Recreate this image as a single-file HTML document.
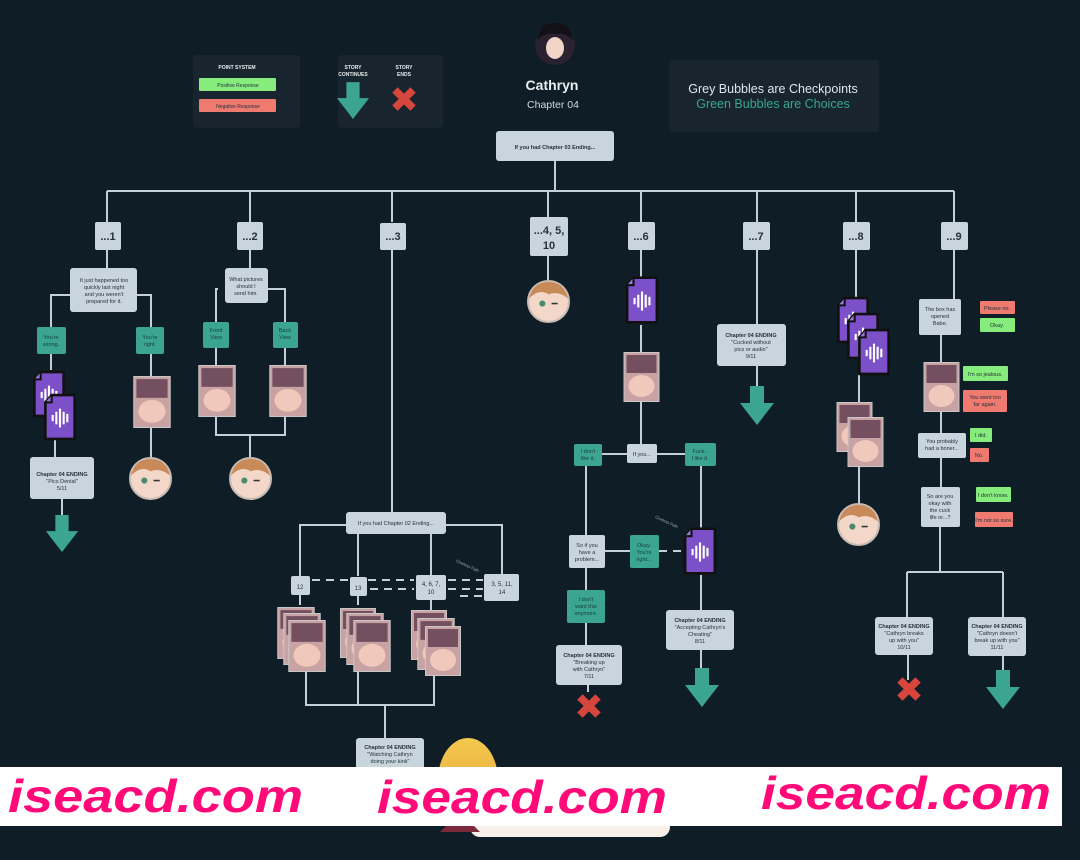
<!DOCTYPE html>
<html><head><meta charset="utf-8"><style>
html,body{margin:0;padding:0;background:#0f1d26;}
svg{display:block;font-family:"Liberation Sans",sans-serif;}
.n{fill:#c9d5dc}
.t{fill:#3ba592}
.g{fill:#86ec7c}
.r{fill:#ee7a70}
.l{stroke:#c4d0d6;stroke-width:2;fill:none}
.d{stroke:#c4d0d6;stroke-width:2;fill:none;stroke-dasharray:8 6}
text{fill:#26323a;font-size:5.5px;text-anchor:middle}
.b{font-weight:bold}
.big{font-size:12px;font-weight:bold}
.tt{fill:#173f38}
.wm{fill:#ff0a78;font-size:46px;font-weight:bold;font-style:italic;text-anchor:start}
</style></head><body>
<svg width="1080" height="860" viewBox="0 0 1080 860">
<defs>
<symbol id="aud" viewBox="0 0 32 46"><path d="M8 2H30V44H2V9Z" fill="#7c50c8" stroke="#111" stroke-width="2.5"/><path d="M8 2V9H2" fill="#9a78dc" stroke="#111" stroke-width="2"/><g fill="#fff"><rect x="8" y="21" width="2" height="6"/><rect x="11.5" y="18" width="2" height="12"/><rect x="15" y="15" width="2" height="18"/><rect x="18.5" y="18" width="2" height="12"/><rect x="22" y="20" width="2" height="8"/></g></symbol>
<symbol id="arr" viewBox="0 0 36 40"><path d="M11 0H25V17H35L18 39L1 17H11Z" fill="#3ba592"/></symbol>
<symbol id="x" viewBox="0 0 30 30"><path d="M4 9L9 4L15 10L21 4L26 9L20 15L26 21L21 26L15 20L9 26L4 21L10 15Z" fill="#d6463d"/></symbol>
<symbol id="av" viewBox="0 0 42 42"><circle cx="21" cy="21" r="20" fill="#f3d7c8" stroke="#c9bcb4" stroke-width="2"/><path d="M2 18Q6 2 21 2Q36 2 40 18Q30 10 21 14Q12 8 2 18Z" fill="#c98a5a"/><circle cx="15" cy="23" r="3" fill="#4a8a70"/><path d="M24 23h6" stroke="#333" stroke-width="1.5"/></symbol>
<symbol id="img" viewBox="0 0 36 50"><rect x="0.5" y="0.5" width="35" height="49" fill="#c9a3a3" stroke="#c7c7c7"/><rect x="3" y="3" width="30" height="18" fill="#5e3a4e" opacity=".8"/><ellipse cx="18" cy="34" rx="13" ry="11" fill="#f0c8bc"/></symbol>
<linearGradient id="gr" x1="0" x2="0" y1="0" y2="1"><stop offset="0" stop-color="#f3c94e"/><stop offset="1" stop-color="#e6a23a"/></linearGradient>
</defs>

<!-- legend -->
<rect x="193" y="55" width="107" height="73" rx="4" fill="#18252e"/>
<text x="237" y="69" style="fill:#e7ecef;font-size:5px" class="b">POINT SYSTEM</text>
<rect x="199" y="78" width="77" height="13" rx="1" class="g"/><text x="238" y="87" style="font-size:5px">Positive Response</text>
<rect x="199" y="99" width="77" height="13" rx="1" class="r"/><text x="238" y="108" style="font-size:5px">Negative Response</text>
<rect x="338" y="55" width="105" height="73" rx="4" fill="#18252e"/>
<text x="353" y="69" style="fill:#e7ecef;font-size:5px" class="b">STORY</text><text x="353" y="76" style="fill:#e7ecef;font-size:5px" class="b">CONTINUES</text>
<text x="404" y="69" style="fill:#e7ecef;font-size:5px" class="b">STORY</text><text x="404" y="76" style="fill:#e7ecef;font-size:5px" class="b">ENDS</text>
<use href="#arr" x="336" y="82" width="34" height="38"/>
<use href="#x" x="388" y="83" width="32" height="32"/>
<rect x="669" y="60" width="210" height="72" rx="4" fill="#18252e"/>
<text x="773" y="93" style="fill:#dfe6ea;font-size:12.5px">Grey Bubbles are Checkpoints</text>
<text x="773" y="108" style="fill:#3ba592;font-size:12.5px">Green Bubbles are Choices</text>

<!-- header -->
<circle cx="555" cy="45" r="20" fill="#2a2230"/><path d="M537 40Q540 22 555 23Q570 22 573 40Q565 32 555 34Q545 32 537 40Z" fill="#141018"/><ellipse cx="555" cy="48" rx="9" ry="11" fill="#f1d4c8"/>
<text x="552" y="90" style="fill:#e8edf0;font-size:14px" class="b">Cathryn</text>
<text x="553" y="108" style="fill:#d2dbe0;font-size:10.5px">Chapter 04</text>
<rect x="496" y="131" width="118" height="30" rx="3" class="n"/><text x="555" y="149" class="b">If you had Chapter 03 Ending...</text>

<!-- main lines -->
<path class="l" d="M555 161V191M107 191H954M107 191V222M250 191V222M392 191V222M548 191V217M641 191V222M757 191V222M856 191V222M954 191V222"/>
<rect x="95" y="222" width="26" height="28" rx="2" class="n"/><text x="108" y="240" class="big" style="font-size:11px">...1</text>
<rect x="237" y="222" width="26" height="28" rx="2" class="n"/><text x="250" y="240" class="big" style="font-size:11px">...2</text>
<rect x="380" y="223" width="26" height="27" rx="2" class="n"/><text x="393" y="240" class="big" style="font-size:11px">...3</text>
<rect x="530" y="217" width="38" height="39" rx="2" class="n"/><text x="549" y="234" class="big" style="font-size:11px">...4, 5,</text><text x="549" y="249" class="big" style="font-size:11px">10</text>
<rect x="628" y="222" width="27" height="28" rx="2" class="n"/><text x="641" y="240" class="big" style="font-size:11px">...6</text>
<rect x="743" y="222" width="27" height="28" rx="2" class="n"/><text x="756" y="240" class="big" style="font-size:11px">...7</text>
<rect x="843" y="222" width="27" height="28" rx="2" class="n"/><text x="856" y="240" class="big" style="font-size:11px">...8</text>
<rect x="941" y="222" width="27" height="28" rx="2" class="n"/><text x="954" y="240" class="big" style="font-size:11px">...9</text>

<!-- branch 1 -->
<path class="l" d="M107 250V268M70 295H51V327M137 295H151V327M51 354V370M151 354V376M151 428V457M55 440V457M62 499V515"/>
<rect x="70" y="268" width="67" height="44" rx="3" class="n"/>
<text x="104" y="282">It just happened too</text><text x="104" y="289">quickly last night</text><text x="104" y="296">and you weren't</text><text x="104" y="303">prepared for it.</text>
<rect x="37" y="327" width="29" height="27" rx="2" class="t"/><text x="51" y="339" class="tt">You're</text><text x="51" y="346" class="tt">wrong.</text>
<rect x="136" y="327" width="28" height="27" rx="2" class="t"/><text x="150" y="339" class="tt">You're</text><text x="150" y="346" class="tt">right.</text>
<use href="#aud" x="32" y="370" width="34" height="48"/><use href="#aud" x="43" y="393" width="34" height="48"/>
<use href="#img" x="133" y="376" width="38" height="52"/>
<use href="#av" x="129" y="457" width="43" height="43"/>
<rect x="30" y="457" width="64" height="42" rx="3" class="n"/><text x="62" y="476" class="b">Chapter 04 ENDING</text><text x="62" y="483">"Pics Denial"</text><text x="62" y="490">5/11</text>
<use href="#arr" x="44" y="515" width="36" height="38"/>

<!-- branch 2 -->
<path class="l" d="M250 250V268M218 289H216V322M267 289H285V322M216 348V365M285 348V365M216 417V435H285V417M250 435V457"/>
<rect x="225" y="268" width="43" height="35" rx="3" class="n"/><text x="246" y="281">What pictures</text><text x="246" y="288">should I</text><text x="246" y="295">send him.</text>
<rect x="203" y="322" width="26" height="26" rx="2" class="t"/><text x="216" y="332" class="tt">Front</text><text x="216" y="339" class="tt">View</text>
<rect x="273" y="322" width="25" height="26" rx="2" class="t"/><text x="285" y="332" class="tt">Back</text><text x="285" y="339" class="tt">View</text>
<use href="#img" x="198" y="365" width="38" height="52"/><use href="#img" x="269" y="365" width="38" height="52"/>
<use href="#av" x="229" y="457" width="43" height="43"/>

<!-- branch 3 -->
<path class="l" d="M392 250V512M346 525H300V576M446 525H502V574M358 534V576M431 534V575M300 594V605M358 594V605M431 600V610M306 672V705H434V672M358 670V705M385 705V740"/>
<path class="d" d="M312 580H414M370 589H414M448 580H483M448 589H483M460 596H483"/>
<rect x="346" y="512" width="100" height="22" rx="3" class="n"/><text x="396" y="525">If you had Chapter 02 Ending...</text>
<rect x="291" y="576" width="19" height="19" rx="2" class="n"/><text x="300" y="589" style="font-size:6px">12</text>
<rect x="350" y="577" width="17" height="19" rx="2" class="n"/><text x="358" y="590" style="font-size:6px">13</text>
<rect x="416" y="575" width="30" height="25" rx="2" class="n"/><text x="431" y="586" style="font-size:6px">4, 6, 7,</text><text x="431" y="594" style="font-size:6px">10</text>
<rect x="484" y="574" width="35" height="27" rx="2" class="n"/><text x="502" y="586" style="font-size:6px">3, 5, 11,</text><text x="502" y="594" style="font-size:6px">14</text>
<text x="467" y="567" style="fill:#aab;font-size:4px" transform="rotate(25 467 567)">Clueless Path</text>
<use href="#img" x="277" y="607" width="38" height="52"/><use href="#img" x="283" y="613" width="38" height="52"/><use href="#img" x="288" y="620" width="38" height="52"/>
<use href="#img" x="339" y="608" width="38" height="50"/><use href="#img" x="346" y="613" width="38" height="52"/><use href="#img" x="353" y="620" width="38" height="52"/>
<use href="#img" x="410" y="610" width="38" height="50"/><use href="#img" x="417" y="618" width="38" height="52"/><use href="#img" x="424" y="626" width="38" height="50"/>
<rect x="356" y="738" width="68" height="40" rx="3" class="n"/><text x="390" y="749" class="b">Chapter 04 ENDING</text><text x="390" y="756">"Watching Cathryn</text><text x="390" y="763">doing your kink"</text>
<ellipse cx="468" cy="780" rx="30" ry="42" fill="url(#gr)"/><ellipse cx="470" cy="792" rx="17" ry="20" fill="#f5dcc9"/>
<rect x="470" y="811" width="200" height="26" rx="10" fill="#f7efe8"/>
<path d="M440 832L460 812L480 832Z" fill="#7a2a3a"/>

<!-- branch 4 -->
<path class="l" d="M548 256V280"/>
<use href="#av" x="527" y="280" width="43" height="43"/>

<!-- branch 6 -->
<path class="l" d="M641 250V277M641 325V352M641 401V445M600 454H627M657 454H686M586 466V535M701 466V528M605 551H630M586 568V590M586 623V645M588 684V692M701 575V610M701 650V668"/>
<path class="d" d="M659 551H682"/>
<use href="#aud" x="625" y="275" width="34" height="50"/>
<use href="#img" x="623" y="352" width="37" height="50"/>
<rect x="627" y="444" width="30" height="19" rx="2" class="n"/><text x="642" y="456">If you...</text>
<rect x="574" y="444" width="28" height="22" rx="2" class="t"/><text x="588" y="453" class="tt">I don't</text><text x="588" y="460" class="tt">like it.</text>
<rect x="685" y="443" width="31" height="23" rx="2" class="t"/><text x="700" y="453" class="tt">Fuck..</text><text x="700" y="460" class="tt">I like it.</text>
<rect x="569" y="535" width="36" height="33" rx="2" class="n"/><text x="587" y="547">So if you</text><text x="587" y="554">have a</text><text x="587" y="561">problem...</text>
<rect x="630" y="535" width="29" height="33" rx="2" class="t"/><text x="644" y="547" class="tt">Okay.</text><text x="644" y="554" class="tt">You're</text><text x="644" y="561" class="tt">right...</text>
<text x="666" y="523" style="fill:#aab;font-size:4px" transform="rotate(25 666 523)">Clueless Path</text>
<use href="#aud" x="683" y="526" width="34" height="50"/>
<rect x="567" y="590" width="38" height="33" rx="2" class="t"/><text x="586" y="601" class="tt">I don't</text><text x="586" y="608" class="tt">want this</text><text x="586" y="615" class="tt">anymore.</text>
<rect x="556" y="645" width="66" height="40" rx="3" class="n"/><text x="589" y="657" class="b">Chapter 04 ENDING</text><text x="589" y="664">"Breaking up</text><text x="589" y="671">with Cathryn"</text><text x="589" y="678">7/11</text>
<use href="#x" x="573" y="690" width="32" height="32"/>
<rect x="666" y="610" width="68" height="40" rx="3" class="n"/><text x="700" y="622" class="b">Chapter 04 ENDING</text><text x="700" y="629">"Accepting Cathryn's</text><text x="700" y="636">Cheating"</text><text x="700" y="643">8/11</text>
<use href="#arr" x="684" y="668" width="36" height="40"/>

<!-- branch 7 -->
<path class="l" d="M757 250V324M757 366V388"/>
<rect x="717" y="324" width="69" height="42" rx="3" class="n"/><text x="751" y="337" class="b">Chapter 04 ENDING</text><text x="751" y="344">"Cucked without</text><text x="751" y="351">pics or audio"</text><text x="751" y="358">9/11</text>
<use href="#arr" x="739" y="386" width="36" height="40"/>

<!-- branch 8 -->
<path class="l" d="M856 250V298M859 374V402M859 466V505"/>
<use href="#aud" x="836" y="296" width="34" height="48"/><use href="#aud" x="846" y="312" width="34" height="48"/><use href="#aud" x="857" y="328" width="34" height="48"/>
<use href="#img" x="836" y="402" width="37" height="50"/><use href="#img" x="847" y="417" width="37" height="50"/>
<use href="#av" x="837" y="503" width="43" height="43"/>

<!-- branch 9 -->
<path class="l" d="M954 250V299M941 335V362M941 412V433M941 458V487M940 527V572M907 572H1003M907 572V617M1003 572V617M908 654V680M1003 655V672"/>
<rect x="919" y="299" width="42" height="36" rx="2" class="n"/><text x="940" y="311">The box has</text><text x="940" y="318">opened</text><text x="940" y="325">Babe.</text>
<rect x="980" y="301" width="35" height="13" rx="1" class="r"/><text x="997" y="310">Please no.</text>
<rect x="980" y="318" width="35" height="14" rx="1" class="g"/><text x="997" y="327">Okay.</text>
<use href="#img" x="923" y="362" width="37" height="50"/>
<rect x="963" y="366" width="45" height="15" rx="1" class="g"/><text x="985" y="376">I'm so jealous.</text>
<rect x="963" y="390" width="44" height="22" rx="1" class="r"/><text x="985" y="399">You went too</text><text x="985" y="406">far again.</text>
<rect x="918" y="433" width="48" height="25" rx="2" class="n"/><text x="942" y="443">You probably</text><text x="942" y="450">had a boner...</text>
<rect x="970" y="428" width="22" height="14" rx="1" class="g"/><text x="981" y="437">I did.</text>
<rect x="970" y="448" width="19" height="14" rx="1" class="r"/><text x="979" y="457">No.</text>
<rect x="921" y="487" width="39" height="40" rx="2" class="n"/><text x="940" y="498">So are you</text><text x="940" y="505">okay with</text><text x="940" y="512">the cuck</text><text x="940" y="519">life or...?</text>
<rect x="976" y="487" width="35" height="15" rx="1" class="g"/><text x="993" y="497">I don't know.</text>
<rect x="975" y="512" width="38" height="15" rx="1" class="r"/><text x="994" y="522">I'm not so sure.</text>
<rect x="875" y="617" width="58" height="38" rx="3" class="n"/><text x="904" y="628" class="b">Chapter 04 ENDING</text><text x="904" y="635">"Cathryn breaks</text><text x="904" y="642">up with you"</text><text x="904" y="649">10/11</text>
<rect x="968" y="617" width="58" height="39" rx="3" class="n"/><text x="997" y="628" class="b">Chapter 04 ENDING</text><text x="997" y="635">"Cathryn doesn't</text><text x="997" y="642">break up with you"</text><text x="997" y="649">11/11</text>
<use href="#x" x="893" y="673" width="32" height="32"/>
<use href="#arr" x="985" y="670" width="36" height="40"/>

<!-- watermark -->
<rect x="0" y="767" width="1062" height="59" fill="#fff"/>
<text class="wm" x="8" y="812" textLength="295" lengthAdjust="spacingAndGlyphs">iseacd.com</text>
<text class="wm" x="377" y="813" textLength="290" lengthAdjust="spacingAndGlyphs">iseacd.com</text>
<text class="wm" x="761" y="809" textLength="290" lengthAdjust="spacingAndGlyphs">iseacd.com</text>
</svg>
</body></html>
